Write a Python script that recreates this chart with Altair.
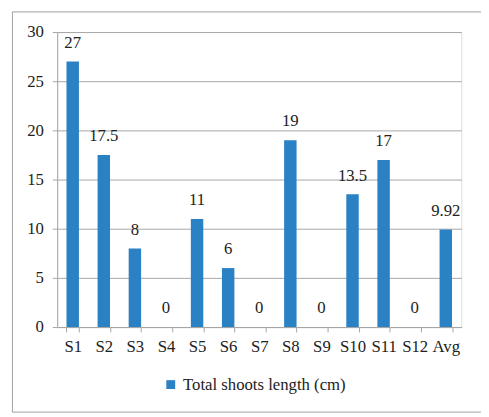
import altair as alt
import pandas as pd

categories = ["S1", "S2", "S3", "S4", "S5", "S6", "S7", "S8", "S9", "S10", "S11", "S12", "Avg"]
values = [27, 17.5, 8, 0, 11, 6, 0, 19, 0, 13.5, 17, 0, 9.92]
series_name = "Total shoots length (cm)"
y_ticks = [0, 5, 10, 15, 20, 25, 30]

df = pd.DataFrame({"cat": categories, "val": values, "series": [series_name] * len(categories)})

FONT = "'Times New Roman', 'Liberation Serif', Tinos, serif"
FS = 17
BLUE = "#2A81C4"
GREY = "#A6A6A6"
TXT = "#222222"

x_enc = alt.X(
    "cat:N",
    sort=categories,
    scale=alt.Scale(paddingInner=0.6, paddingOuter=0.3),
    axis=alt.Axis(
        title=None, labelAngle=0, tickBand="extent", tickSize=5, tickColor=GREY,
        domainColor=GREY, labelFont=FONT, labelFontSize=FS, labelColor=TXT,
        labelPadding=7, grid=False,
    ),
)
y_enc = alt.Y(
    "val:Q",
    scale=alt.Scale(domain=[0, 30], nice=False),
    axis=alt.Axis(
        title=None, values=y_ticks, tickSize=5, tickColor=GREY, domainColor=GREY,
        gridColor=GREY, grid=True, labelFont=FONT, labelFontSize=FS, labelColor=TXT,
        labelPadding=9,
    ),
)

border = alt.Chart(pd.DataFrame({"a": [0]})).mark_rect(
    fill=None, stroke="#A0A0A0", strokeWidth=1
).encode(
    x=alt.value(-45.5), x2=alt.value(445), y=alt.value(-20.5), y2=alt.value(386.5)
)

bars = alt.Chart(df).mark_bar().encode(
    x=x_enc,
    y=y_enc,
    color=alt.Color(
        "series:N",
        scale=alt.Scale(range=[BLUE]),
        legend=alt.Legend(
            title=None, orient="none", legendX=107, legendY=350, symbolType="square",
            symbolSize=81, symbolStrokeWidth=0, labelFont=FONT, labelFontSize=FS,
            labelColor=TXT, padding=0, labelOffset=4, labelLimit=400,
        ),
    ),
)

labels = alt.Chart(df).mark_text(
    baseline="alphabetic", dy=-14, font=FONT, fontSize=FS, color=TXT
).encode(
    x=alt.X("cat:N", sort=categories),
    y=alt.Y("val:Q"),
    text=alt.Text("val:Q", format="~g"),
)

chart = alt.layer(border, bars, labels).properties(
    width=411,
    height=300,
    autosize=alt.AutoSizeParams(type="none"),
    padding={"left": 50, "top": 21, "right": 20, "bottom": 88},
).configure_view(stroke=None).configure(background="white", font=FONT)

chart.save("out.html", embed_options={"renderer": "svg", "actions": False})
